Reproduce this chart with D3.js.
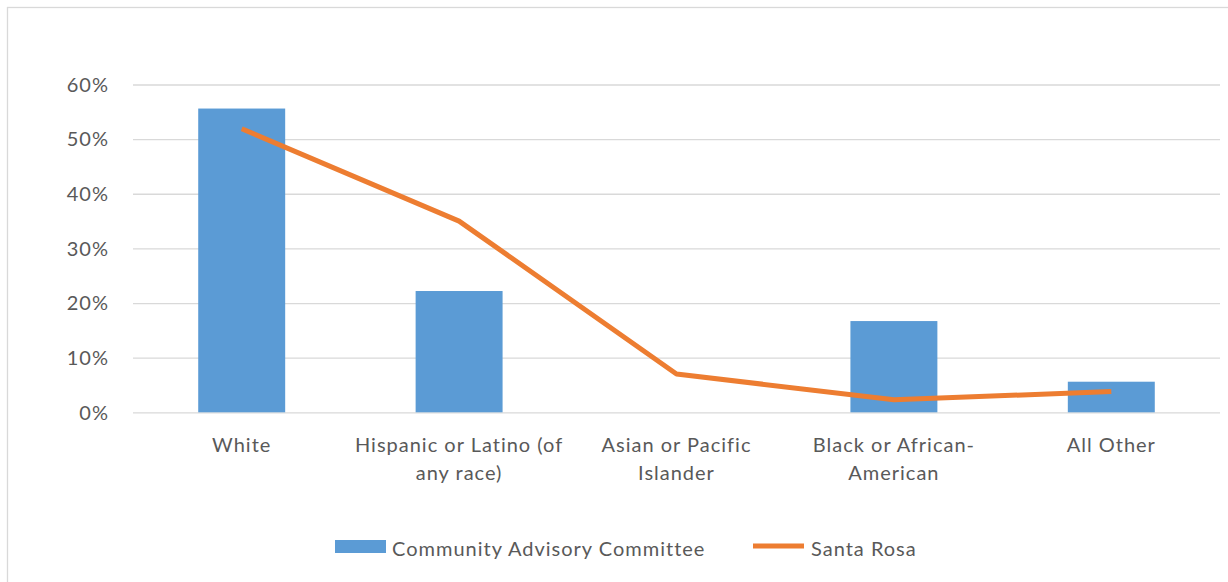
<!DOCTYPE html>
<html>
<head>
<meta charset="utf-8">
<script src="https://cdn.jsdelivr.net/npm/d3@7"></script>
<style>
  html, body { margin: 0; padding: 0; background: #fff; }
  svg { display: block; }
  text { font-family: Lato, "Open Sans", sans-serif; fill: #595959; letter-spacing: 1px; }
</style>
</head>
<body>
<svg id="chart" width="1228" height="582"></svg>
<script>
// Race / ethnicity share: advisory committee members vs. city population
const categories = [
  ["White"],
  ["Hispanic or Latino (of", "any race)"],
  ["Asian or Pacific", "Islander"],
  ["Black or African-", "American"],
  ["All Other"]
];
const categoryKeys = ["White", "Hispanic or Latino", "Asian or Pacific Islander", "Black or African-American", "All Other"];
const committeeShare = [0.556, 0.222, 0.0, 0.167, 0.056];
const santaRosaShare = [0.519, 0.350, 0.070, 0.023, 0.038];
const yTicks = [0, 0.1, 0.2, 0.3, 0.4, 0.5, 0.6];
const seriesNames = ["Community Advisory Committee", "Santa Rosa"];

const BAR = "#5B9BD5", LINE = "#ED7D31", GRID = "#D9D9D9";
const svg = d3.select("#chart");

// outer chart frame
svg.append("rect")
  .attr("x", 7.5).attr("y", 7.5).attr("width", 1240).attr("height", 600)
  .attr("fill", "none").attr("stroke", GRID).attr("stroke-width", 1.3);

const plot = { left: 133, right: 1220, top: 84.5, bottom: 412.3 };

const x = d3.scaleBand().domain(categoryKeys).range([plot.left, plot.right]).paddingInner(0.6).paddingOuter(0.3);
const xc = d3.scalePoint().domain(categoryKeys).range([plot.left, plot.right]).padding(0.5);
const y = d3.scaleLinear().domain([0, 0.6]).range([plot.bottom, plot.top]);

// horizontal gridlines and percentage labels
const yAxis = d3.axisLeft(y).tickValues(yTicks).tickFormat(d3.format(".0%"))
  .tickSize(-(plot.right - plot.left)).tickPadding(24);
const gy = svg.append("g").attr("transform", `translate(${plot.left},0)`).call(yAxis);
gy.select(".domain").remove();
gy.selectAll(".tick line").attr("stroke", GRID).attr("stroke-width", 1.3);
gy.selectAll(".tick text").attr("font-size", 20).attr("fill", "#595959").attr("dy", "0.34em")
  .attr("x", -24);

// committee bars
svg.append("g").selectAll("rect").data(categoryKeys).join("rect")
  .attr("x", d => x(d))
  .attr("width", x.bandwidth())
  .attr("y", (d, i) => y(committeeShare[i]))
  .attr("height", (d, i) => y(0) - y(committeeShare[i]))
  .attr("fill", BAR);

// city population line
const line = d3.line().x((d, i) => xc(categoryKeys[i])).y(d => y(d));
svg.append("path").datum(santaRosaShare)
  .attr("d", line).attr("fill", "none").attr("stroke", LINE)
  .attr("stroke-width", 5).attr("stroke-linejoin", "round");

// category labels (two lines where wrapped)
const xl = svg.append("g").selectAll("text").data(categories).join("text")
  .attr("text-anchor", "middle").attr("font-size", 20)
  .attr("x", (d, i) => xc(categoryKeys[i]))
  .attr("y", 452);
xl.selectAll("tspan").data(d => d).join("tspan")
  .attr("x", function () { return d3.select(this.parentNode).attr("x"); })
  .attr("dy", (d, i) => i === 0 ? 0 : 28)
  .text(d => d);

// legend
const lg = svg.append("g");
lg.append("rect").attr("x", 335).attr("y", 540).attr("width", 51).attr("height", 13).attr("fill", BAR);
lg.append("text").attr("x", 392).attr("y", 556).attr("font-size", 20).text(seriesNames[0]);
lg.append("line").attr("x1", 753).attr("x2", 804).attr("y1", 546).attr("y2", 546)
  .attr("stroke", LINE).attr("stroke-width", 5);
lg.append("text").attr("x", 811).attr("y", 556).attr("font-size", 20).text(seriesNames[1]);
</script>
</body>
</html>
